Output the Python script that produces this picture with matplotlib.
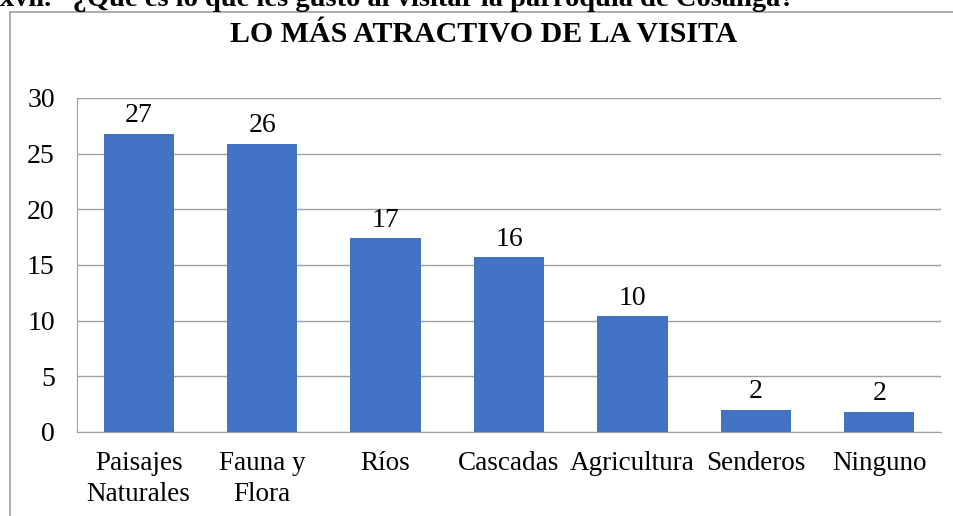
import matplotlib.pyplot as plt
from matplotlib.lines import Line2D

plt.rcParams['font.family'] = ['Liberation Serif', 'DejaVu Serif']

categorias = ["Paisajes\nNaturales", "Fauna y\nFlora", "Ríos", "Cascadas",
              "Agricultura", "Senderos", "Ninguno"]
valores = [26.8, 25.9, 17.4, 15.7, 10.4, 2.0, 1.8]
y_ticks = [0, 5, 10, 15, 20, 25, 30]

fig = plt.figure(figsize=(9.54, 5.16), dpi=100)
ax = fig.add_axes([0.0807, 0.1628, 0.9057, 0.6473])

x = range(len(categorias))
barras = ax.bar(x, valores, width=0.57, color="#4472c4", zorder=3)
ax.bar_label(barras, fmt="{:.0f}", padding=4, fontsize=20)

ax.set_xlim(-0.5, len(categorias) - 0.5)
ax.set_ylim(0, 30)
ax.set_yticks(y_ticks)
ax.set_xticks(list(x))
ax.set_xticklabels(categorias, fontsize=19.5, linespacing=1.3)
ax.tick_params(axis="y", labelsize=20, length=0, pad=16)
ax.tick_params(axis="x", length=0, pad=14)

ax.grid(axis="y", color="#a0a0a0", linewidth=1, zorder=0)
for s in ["top", "right"]:
    ax.spines[s].set_visible(False)
ax.spines["left"].set_color("#a0a0a0")
ax.spines["bottom"].set_color("#a0a0a0")

# marco del gráfico (cortado)
fig.add_artist(Line2D([0.0105, 0.0105], [0, 0.9767], color="#a0a0a0", lw=1.2))
fig.add_artist(Line2D([0.0105, 1.0], [0.9767, 0.9767], color="#a0a0a0", lw=1.2))

fig.text(0.507, 0.934, "LO MÁS ATRACTIVO DE LA VISITA", ha="center", va="center",
         fontsize=21.5, fontweight="bold")
fig.text(0.0, 0.988, "xvii.   ¿Qué es lo que les gustó al visitar la parroquia de Cosanga?",
         ha="left", va="baseline", fontsize=20.5, fontweight="bold")

plt.savefig("out.png", dpi=100)
plt.close(fig)
